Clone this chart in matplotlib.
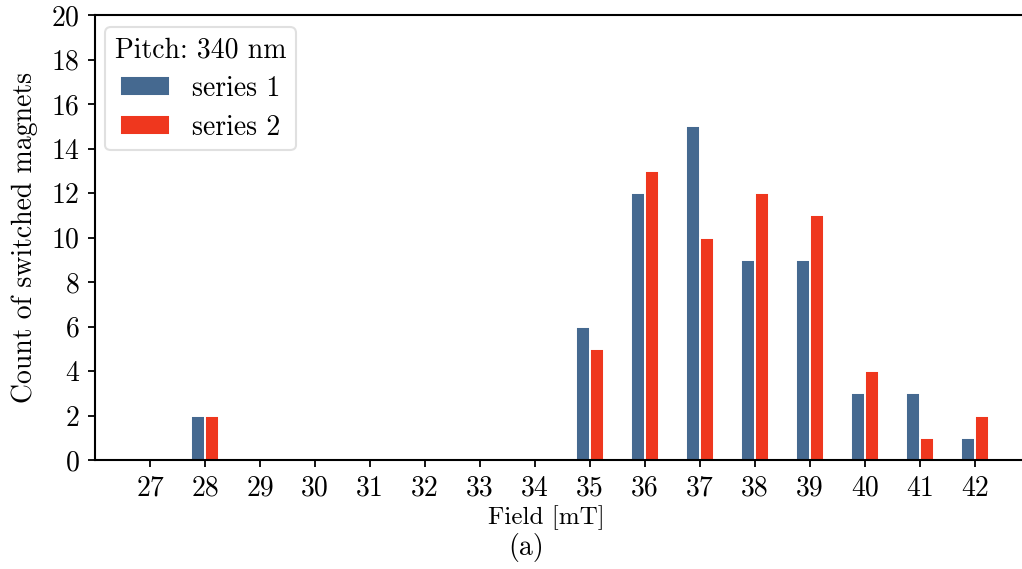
import matplotlib
matplotlib.use("Agg")
import matplotlib.pyplot as plt
import numpy as np

fields = [27, 28, 29, 30, 31, 32, 33, 34, 35, 36, 37, 38, 39, 40, 41, 42]
series1 = [0, 2, 0, 0, 0, 0, 0, 0, 6, 12, 15, 9, 9, 3, 3, 1]
series2 = [0, 2, 0, 0, 0, 0, 0, 0, 5, 13, 10, 12, 11, 4, 1, 2]
yticks = [0, 2, 4, 6, 8, 10, 12, 14, 16, 18, 20]

plt.rcParams['font.family'] = 'serif'
plt.rcParams['font.serif'] = ['cmr10']
plt.rcParams['mathtext.fontset'] = 'cm'
plt.rcParams['axes.formatter.use_mathtext'] = True

fig = plt.figure(figsize=(10.22, 5.69), dpi=100)
ax = fig.add_axes([95/1022, 1-460/569, 935/1022, 445/569])

x = np.array(fields, dtype=float)
w = 0.25
ax.bar(x - w/2, series1, width=w, color='#456990', edgecolor='white', linewidth=1.4, label='series 1')
ax.bar(x + w/2, series2, width=w, color='#EF371E', edgecolor='white', linewidth=1.4, label='series 2')

ax.set_xlim(26, 43)
ax.set_ylim(0, 20)
ax.set_xticks(fields)
ax.set_xticklabels([str(f) for f in fields])
ax.set_yticks(yticks)
ax.tick_params(labelsize=20, length=5, width=1.3, pad=6)
for s in ['left', 'bottom', 'top']:
    ax.spines[s].set_linewidth(1.5)
ax.spines['right'].set_visible(False)

ax.set_ylabel('Count of switched magnets', fontsize=20, labelpad=9)

leg = ax.legend(title='Pitch: 340 nm', loc='upper left', fontsize=20, title_fontsize=20,
                frameon=True, fancybox=True, bbox_to_anchor=(10/935, 433/445), borderaxespad=0,
                handlelength=1.8, handleheight=0.7, borderpad=0.35, labelspacing=0.45,
                handletextpad=0.8)
leg.get_frame().set_edgecolor('#d9d9d9')
leg.get_frame().set_linewidth(1.5)

fig.text(546/1022, 1-518/569, 'Field [mT]', ha='center', va='center', fontsize=18)
fig.text(526/1022, 1-548/569, '(a)', ha='center', va='center', fontsize=20)

fig.savefig('out.png', dpi=100)
